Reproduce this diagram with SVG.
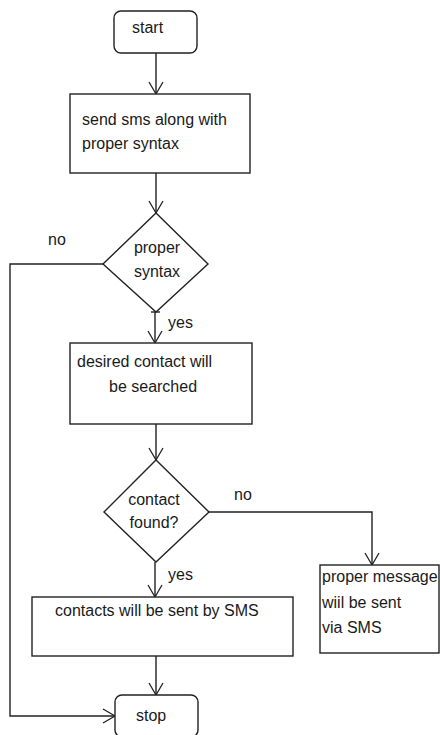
<svg xmlns="http://www.w3.org/2000/svg" width="440" height="735" viewBox="0 0 440 735">
<style>
.s{fill:#fff;stroke:#222;stroke-width:1.4}
.c{fill:none;stroke:#222;stroke-width:1.4}
.t{font-family:"Liberation Sans",Arial,sans-serif;font-size:16px;fill:#1a1a1a}
.m{text-anchor:middle}
</style>
<defs>
<marker id="a" markerUnits="userSpaceOnUse" markerWidth="16" markerHeight="18" viewBox="0 0 14 18" refX="13" refY="8" orient="auto">
<path d="M1,1 L13,8 L1,15" fill="none" stroke="#222" stroke-width="1.3"/>
</marker>
</defs>
<rect width="440" height="735" fill="#fff"/>
<g id="connectors">
<path class="c" d="M156,53 V94" marker-end="url(#a)"/>
<path class="c" d="M156,173 V213" marker-end="url(#a)"/>
<path class="c" d="M155,312 V343" marker-end="url(#a)"/>
<path class="c" d="M151,312 H160"/>
<path class="c" d="M103,264 H10 V716 H115" marker-end="url(#a)"/>
<path class="c" d="M156,424 V460" marker-end="url(#a)"/>
<path class="c" d="M209,512 H372 V565" marker-end="url(#a)"/>
<path class="c" d="M155,562 V597" marker-end="url(#a)"/>
<path class="c" d="M156,656 V695" marker-end="url(#a)"/>
<text class="t" x="48" y="245">no</text>
<text class="t" x="168" y="328">yes</text>
<text class="t" x="234" y="500">no</text>
<text class="t" x="168" y="580">yes</text>
</g>
<g id="start">
<rect class="s" x="114" y="11" width="83" height="42" rx="7"/>
<text class="t" x="132" y="33">start</text>
</g>
<g id="send">
<rect class="s" x="70" y="94" width="180" height="79"/>
<text class="t" x="82" y="125">send sms along with</text>
<text class="t" x="82" y="149">proper syntax</text>
</g>
<g id="syntax">
<polygon class="s" points="156,213 208,264 156,312 103,264"/>
<text class="t m" x="157" y="253">proper</text>
<text class="t m" x="157" y="277">syntax</text>
</g>
<g id="search">
<rect class="s" x="70" y="343" width="182" height="81"/>
<text class="t" x="77" y="367">desired contact will</text>
<text class="t" x="109" y="392">be searched</text>
</g>
<g id="found">
<polygon class="s" points="156,460 209,512 156,562 104,512"/>
<text class="t m" x="154" y="505">contact</text>
<text class="t m" x="154" y="528">found?</text>
</g>
<g id="message">
<rect class="s" x="320" y="565" width="119" height="88"/>
<text class="t" x="322" y="582">proper message</text>
<text class="t" x="322" y="608">wiil be sent</text>
<text class="t" x="322" y="633">via SMS</text>
</g>
<g id="sent">
<rect class="s" x="32" y="597" width="261" height="59"/>
<text class="t" x="55" y="616">contacts will be sent by SMS</text>
</g>
<g id="stop">
<rect class="s" x="115" y="695" width="83" height="42" rx="7"/>
<text class="t" x="136" y="721">stop</text>
</g>
</svg>
